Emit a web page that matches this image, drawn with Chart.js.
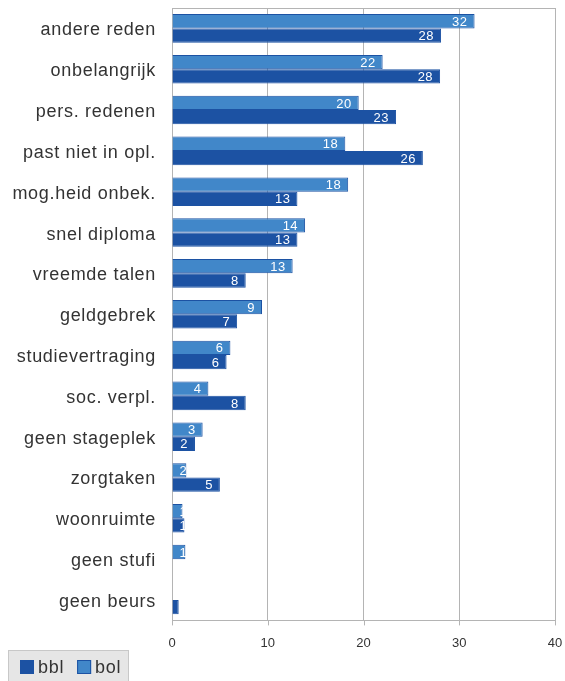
<!DOCTYPE html>
<html>
<head>
<meta charset="utf-8">
<script src="https://cdn.jsdelivr.net/npm/chart.js"></script>
<style>
  html, body { margin: 0; padding: 0; background: #fff; }
  #wrap { width: 565px; height: 681px; position: relative; }
</style>
</head>
<body>
<div id="wrap"><canvas id="myChart"></canvas></div>
<script>
// Chart data
const categories = [
  'andere reden', 'onbelangrijk', 'pers. redenen', 'past niet in opl.',
  'mog.heid onbek.', 'snel diploma', 'vreemde talen', 'geldgebrek',
  'studievertraging', 'soc. verpl.', 'geen stageplek', 'zorgtaken',
  'woonruimte', 'geen stufi', 'geen beurs'
];
const bolValues = [31.6, 22.0, 19.5, 18.1, 18.4, 13.9, 12.6, 9.4, 6.1, 3.8, 3.2, 1.5, 1.1, 1.4, 0];
const bblValues = [28.1, 28.0, 23.4, 26.2, 13.1, 13.1, 7.7, 6.8, 5.7, 7.7, 2.4, 5.0, 1.3, 0, 0.7];
const xTicks = [0, 10, 20, 30, 40];

const DARK = '#1c52a3';
const LIGHT = '#4187c9';
const GRID = '#b4b4b4';
const FONT = '"Liberation Sans", Arial, sans-serif';

// white value labels at the end of each bar (pushed right on very short bars)
const valueLabels = {
  id: 'valueLabels',
  afterDatasetsDraw(chart) {
    const ctx = chart.ctx;
    ctx.save();
    ctx.fillStyle = '#fff';
    ctx.font = '13px ' + FONT;
    ctx.letterSpacing = '0.5px';
    ctx.textAlign = 'right';
    ctx.textBaseline = 'middle';
    chart.data.datasets.forEach((ds, i) => {
      chart.getDatasetMeta(i).data.forEach((bar, j) => {
        const v = ds.data[j];
        if (v < 1) return;
        const txt = String(Math.round(v));
        const w = ctx.measureText(txt).width;
        const x = Math.max(bar.x - 7, bar.base + 7 + w);
        ctx.fillText(txt, x, bar.y + 1);
      });
    });
    ctx.restore();
  }
};

// frame top line, short x tick marks, category labels and the grey legend box
const frame = {
  id: 'frame',
  afterDraw(chart) {
    const a = chart.chartArea;
    const xs = chart.scales.x;
    const ys = chart.scales.y;
    const ctx = chart.ctx;
    ctx.save();
    ctx.strokeStyle = GRID;
    ctx.lineWidth = 1;
    ctx.beginPath();
    ctx.moveTo(a.left, Math.round(a.top) + 0.5);
    ctx.lineTo(a.right, Math.round(a.top) + 0.5);
    xTicks.forEach(v => {
      const px = Math.round(xs.getPixelForValue(v)) + 0.5;
      ctx.moveTo(px, a.bottom);
      ctx.lineTo(px, a.bottom + 5);
    });
    ctx.stroke();

    // category labels
    ctx.font = '18px ' + FONT;
    ctx.letterSpacing = '0.7px';
    ctx.fillStyle = '#333';
    ctx.textAlign = 'right';
    ctx.textBaseline = 'middle';
    categories.forEach((c, i) => {
      ctx.fillText(c, a.left - 16, ys.getPixelForTick(i) + 2);
    });

    // legend: bbl first, then bol
    ctx.textAlign = 'left';
    ctx.fillStyle = '#e6e6e6';
    ctx.strokeStyle = '#c8c8c8';
    ctx.fillRect(8.5, 650.5, 120, 31);
    ctx.strokeRect(8.5, 650.5, 120, 31);
    const items = chart.data.datasets.slice().reverse();
    let x = 20;
    items.forEach(ds => {
      ctx.fillStyle = ds.backgroundColor;
      ctx.fillRect(x, 660, 14, 14);
      ctx.strokeStyle = ds.borderColor;
      ctx.strokeRect(x + 0.5, 660.5, 13, 13);
      ctx.fillStyle = '#333';
      ctx.fillText(ds.label, x + 18, 668);
      x += 18 + ctx.measureText(ds.label).width + 13;
    });
    ctx.restore();
  }
};

const ctx = document.getElementById('myChart').getContext('2d');
new Chart(ctx, {
  type: 'bar',
  data: {
    labels: categories,
    datasets: [
      {
        label: 'bol',
        data: bolValues,
        backgroundColor: LIGHT,
        borderColor: DARK,
        borderWidth: 1,
        categoryPercentage: 0.7,
        barPercentage: 1.0
      },
      {
        label: 'bbl',
        data: bblValues,
        backgroundColor: DARK,
        borderColor: DARK,
        borderWidth: 1,
        categoryPercentage: 0.7,
        barPercentage: 1.0
      }
    ]
  },
  options: {
    indexAxis: 'y',
    responsive: true,
    maintainAspectRatio: false,
    animation: false,
    layout: { padding: { top: 8, right: 10, left: 12, bottom: 30 } },
    plugins: {
      tooltip: { enabled: false },
      legend: { display: false }
    },
    scales: {
      x: {
        min: 0,
        max: 40,
        afterBuildTicks(axis) { axis.ticks = xTicks.map(v => ({ value: v })); },
        grid: { color: GRID, tickLength: 15, drawTicks: true, tickColor: 'rgba(0,0,0,0)' },
        border: { color: GRID },
        ticks: { color: '#333', padding: 0, font: { family: FONT, size: 13 } }
      },
      y: {
        afterFit(axis) { axis.width = 160; },
        grid: { display: false, drawTicks: false },
        border: { color: GRID },
        ticks: { display: false }
      }
    }
  },
  plugins: [valueLabels, frame]
});
</script>
</body>
</html>
